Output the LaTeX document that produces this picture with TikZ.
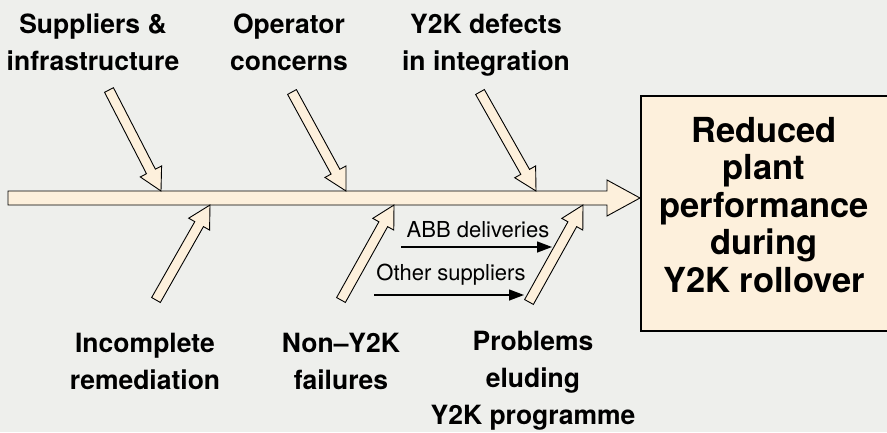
\documentclass[tikz,border=0pt]{standalone}
\usepackage{fontspec}
\setmainfont{TeX Gyre Heros}
\usetikzlibrary{calc,arrows.meta}

\definecolor{bggray}{RGB}{238,239,236}
\definecolor{cream}{RGB}{253,240,220}

% hollow block arrow: from, to, half shaft, half head, head length
\newcommand{\fatarrow}[5]{%
  \coordinate (fa-m) at ($(#2)!#5!(#1)$);
  \draw[bone] ($(#1)!#3!90:(#2)$) -- ($(fa-m)!#3!90:(#2)$) -- ($(fa-m)!#4!90:(#2)$) -- (#2)
    -- ($(fa-m)!#4!-90:(#2)$) -- ($(fa-m)!#3!-90:(#2)$) -- ($(#1)!#3!-90:(#2)$) -- cycle;}

\begin{document}
\begin{tikzpicture}[x=1pt,y=-1pt,
    bone/.style={draw=black,fill=cream,line width=0.9pt,line join=miter},
    cause/.style={font=\fontsize{26.5}{37}\selectfont\bfseries,align=center,inner sep=0pt,text depth=0pt},
    goaltext/.style={font=\fontsize{34.5}{37.5}\selectfont\bfseries,align=center,inner sep=0pt},
    sub/.style={font=\fontsize{22}{26}\selectfont,inner sep=0pt},
    subarrow/.style={line width=1.4pt,-{Triangle[length=15pt,width=11pt]}},
    goalbox/.style={draw=black,fill=cream,line width=1.6pt}]

	\useasboundingbox[fill=bggray] (0,0) rectangle (887,432);

	% effect
	\node[goalbox,minimum width=252pt,minimum height=235pt,anchor=north west] (goal) at (640,95) {};
	\node[goaltext] (goaltxt) at (764,205) {Reduced\\plant\\performance\\during\\Y2K rollover};

	% spine
	\coordinate (spine-t) at (8,198);
	\coordinate (spine-h) at (goal.west |- spine-t);
	\fatarrow{spine-t}{spine-h}{7pt}{18pt}{33pt}

	% causes
	\node[cause] (sup) at (93,42) {Suppliers \&\\infrastructure};
	\node[cause] (ope) at (289,42) {Operator\\concerns};
	\node[cause] (def) at (486,42) {Y2K defects\\in integration};

	\node[cause] (inc) at (145,361) {Incomplete\\remediation};
	\node[cause] (non) at (341,361) {Non--Y2K\\failures};
	\node[cause] (prob) at (533,378) {Problems\\eluding\\Y2K programme};

	% bones
	\coordinate (sup-t) at (109,90);  \coordinate (sup-h) at (161,191);
	\coordinate (ope-t) at (292,92);  \coordinate (ope-h) at (346,191);
	\coordinate (def-t) at (480,92);  \coordinate (def-h) at (536,191);
	\coordinate (inc-t) at (156,300); \coordinate (inc-h) at (210,205);
	\coordinate (non-t) at (341,300); \coordinate (non-h) at (394,205);
	\coordinate (prob-t) at (529,302); \coordinate (prob-h) at (583,205);

	\foreach \c in {sup,ope,def,inc,non,prob}
		{\fatarrow{\c-t}{\c-h}{5pt}{12pt}{22pt}}

	% sub causes
	\node[sub] (abb) at (478,230) {ABB deliveries};
	\node[sub] (oth) at (451,275) {Other suppliers};

	\coordinate (abb-s) at (401,247); \coordinate (abb-e) at (552,247);
	\coordinate (oth-s) at (374,295); \coordinate (oth-e) at (524,295);
	\draw[subarrow] (abb-s) -- (abb-e);
	\draw[subarrow] (oth-s) -- (oth-e);
\end{tikzpicture}
\end{document}
